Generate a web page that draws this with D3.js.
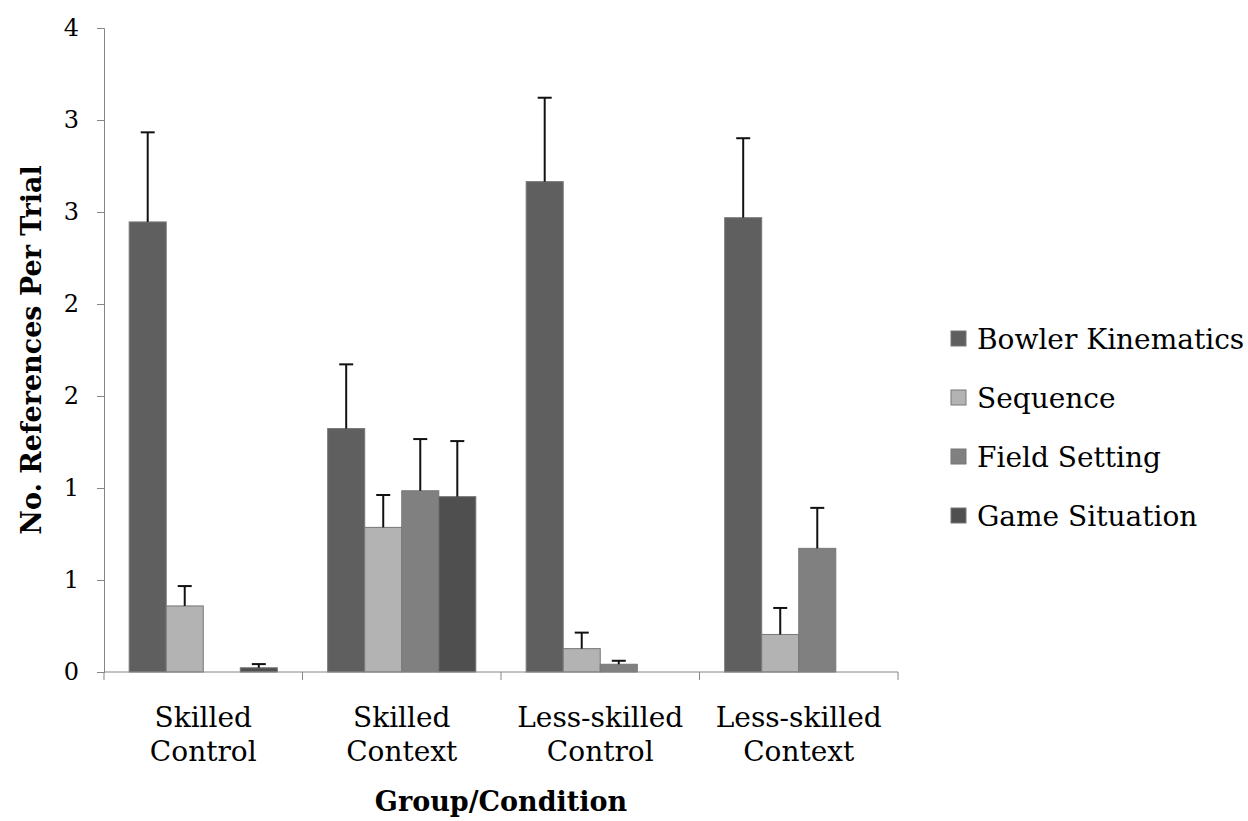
<!DOCTYPE html>
<html>
<head>
<meta charset="utf-8">
<script src="https://cdn.jsdelivr.net/npm/d3@7"></script>
<style>
  body { margin: 0; background: #fff; }
  svg text { font-family: "DejaVu Serif", serif; fill: #000; }
</style>
</head>
<body>
<div id="chart"></div>
<script>
const width = 1248;
const height = 821;
const margin = { top: 28, bottom: 149, left: 104, right: 350 };

const groups = ['Skilled Control', 'Skilled Context', 'Less-skilled Control', 'Less-skilled Context'];
const groupLines = [['Skilled', 'Control'], ['Skilled', 'Context'], ['Less-skilled', 'Control'], ['Less-skilled', 'Context']];
const series = ['Bowler Kinematics', 'Sequence', 'Field Setting', 'Game Situation'];
const colors = ['#5f5f5f', '#b3b3b3', '#808080', '#4f4f4f'];

// means per series, one value per group
const kinematics = [2.446, 1.323, 2.665, 2.469];
const sequence = [0.359, 0.786, 0.127, 0.204];
const fieldSetting = [0, 0.985, 0.042, 0.672];
const gameSituation = [0.023, 0.953, 0, 0];

// upper error bar ends
const kinematicsErr = [2.933, 1.672, 3.121, 2.901];
const sequenceErr = [0.467, 0.962, 0.214, 0.348];
const fieldSettingErr = [null, 1.266, 0.061, 0.892];
const gameSituationErr = [0.043, 1.255, null, null];

// tick values; labels are rounded to whole numbers like the original
const yTicks = [0, 0.5, 1, 1.5, 2, 2.5, 3, 3.5];

const means = [kinematics, sequence, fieldSetting, gameSituation];
const errs = [kinematicsErr, sequenceErr, fieldSettingErr, gameSituationErr];

const data = [];
groups.forEach((g, gi) => {
  series.forEach((s, si) => {
    data.push({ group: g, series: s, value: means[si][gi], err: errs[si][gi] });
  });
});

const svg = d3.select('#chart')
  .append('svg')
  .attr('width', width)
  .attr('height', height);

const x0 = d3.scaleBand()
  .domain(groups)
  .range([margin.left, width - margin.right])
  .padding(0);

const x1 = d3.scaleBand()
  .domain(series)
  .range([0, x0.bandwidth()])
  .paddingInner(0)
  .paddingOuter(0.68);

const y = d3.scaleLinear()
  .domain([0, 3.5])
  .range([height - margin.bottom, margin.top]);

const color = d3.scaleOrdinal().domain(series).range(colors);

// bars
svg.append('g')
  .selectAll('rect')
  .data(data.filter(d => d.value > 0))
  .join('rect')
    .attr('x', d => x0(d.group) + x1(d.series))
    .attr('y', d => y(d.value))
    .attr('width', x1.bandwidth())
    .attr('height', d => y(0) - y(d.value))
    .attr('fill', d => color(d.series))
    .attr('stroke', '#777')
    .attr('stroke-width', 1);

// error bars (upper only)
const eb = svg.append('g')
  .selectAll('g')
  .data(data.filter(d => d.err != null))
  .join('g')
    .attr('stroke', '#111')
    .attr('stroke-width', 2);

eb.append('line')
  .attr('x1', d => x0(d.group) + x1(d.series) + x1.bandwidth() / 2)
  .attr('x2', d => x0(d.group) + x1(d.series) + x1.bandwidth() / 2)
  .attr('y1', d => y(d.value))
  .attr('y2', d => y(d.err));

eb.append('line')
  .attr('x1', d => x0(d.group) + x1(d.series) + x1.bandwidth() / 2 - 7)
  .attr('x2', d => x0(d.group) + x1(d.series) + x1.bandwidth() / 2 + 7)
  .attr('y1', d => y(d.err))
  .attr('y2', d => y(d.err));

// y axis
function yAxis(g) {
  g.attr('transform', `translate(${margin.left},0)`)
    .call(d3.axisLeft(y).tickValues(yTicks).tickSize(7).tickPadding(18)
      .tickFormat(v => Math.round(v + 1e-9)))
    .call(g => g.selectAll('.domain, line').attr('stroke', '#868686'))
    .call(g => g.selectAll('text').attr('font-size', '24px').attr('font-family', '"DejaVu Serif", serif'));
}

// x axis: ticks at group boundaries
function xAxis(g) {
  g.attr('transform', `translate(0,${y(0)})`);
  g.append('line')
    .attr('x1', margin.left).attr('x2', width - margin.right)
    .attr('stroke', '#868686');
  g.selectAll('.tick')
    .data(d3.range(groups.length + 1))
    .join('line')
      .attr('class', 'tick')
      .attr('x1', i => margin.left + i * x0.step())
      .attr('x2', i => margin.left + i * x0.step())
      .attr('y1', 0).attr('y2', 8)
      .attr('stroke', '#868686');
  const lbl = g.selectAll('.lbl')
    .data(groups)
    .join('text')
      .attr('class', 'lbl')
      .attr('text-anchor', 'middle')
      .attr('font-size', '28px')
      .attr('x', d => x0(d) + x0.bandwidth() / 2);
  lbl.selectAll('tspan')
    .data((d, i) => groupLines[i])
    .join('tspan')
      .attr('x', function () { return this.parentNode.getAttribute('x'); })
      .attr('y', (d, i) => 55 + i * 34)
      .text(d => d);
}

svg.append('g').call(xAxis);
svg.append('g').call(yAxis);

// axis titles
svg.append('text')
  .attr('x', x0.range()[0] + (x0.range()[1] - x0.range()[0]) / 2)
  .attr('y', 811)
  .attr('text-anchor', 'middle')
  .attr('font-size', '27px')
  .attr('font-weight', 'bold')
  .text('Group/Condition');

svg.append('text')
  .attr('transform', `translate(41,${(y(0) + y(3.5)) / 2}) rotate(-90)`)
  .attr('text-anchor', 'middle')
  .attr('font-size', '27px')
  .attr('font-weight', 'bold')
  .text('No. References Per Trial');

// legend
const legend = svg.append('g')
  .attr('transform', 'translate(951,339)');

const item = legend.selectAll('g')
  .data(series)
  .join('g')
    .attr('transform', (d, i) => `translate(0,${i * 59})`);

item.append('rect')
  .attr('x', 0).attr('y', -8)
  .attr('width', 15).attr('height', 15)
  .attr('fill', d => color(d))
  .attr('stroke', '#777');

item.append('text')
  .attr('x', 26)
  .attr('y', 10)
  .attr('font-size', '28px')
  .text(d => d);
</script>
</body>
</html>
